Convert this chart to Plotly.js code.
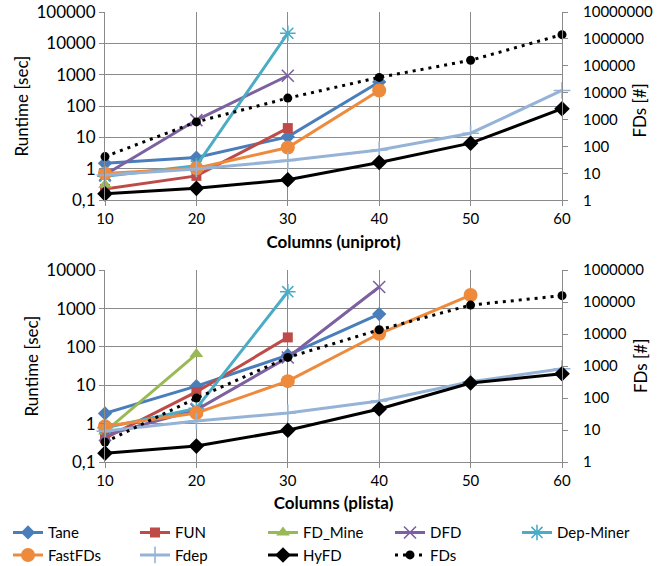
<!DOCTYPE html>
<html>
<head>
<meta charset="utf-8">
<script src="https://cdn.plot.ly/plotly-3.0.1.min.js"></script>
<style>html,body{margin:0;padding:0;background:#fff;}#chart{width:662px;height:566px;}</style>
</head>
<body>
<div id="chart"></div>
<script>
// ---- data ----
const columns = [10, 20, 30, 40, 50, 60];
const seriesNames = ["Tane", "FUN", "FD_Mine", "DFD", "Dep-Miner", "FastFDs", "Fdep", "HyFD"];

// uniprot (runtime in sec)
const tane_u     = [1.5, 2.3, 10.5, 590, null, null];
const fun_u      = [0.23, 0.6, 20, null, null, null];
const fdmine_u   = [0.31, null, null, null, null, null];
const dfd_u      = [0.65, 36, 930, null, null, null];
const depminer_u = [0.58, 1.25, 21000, null, null, null];
const fastfds_u  = [0.72, 1.05, 4.8, 316, null, null];
const fdep_u     = [0.64, 1.0, 1.85, 4.0, 13.7, 316];
const hyfd_u     = [0.16, 0.24, 0.45, 1.6, 6.6, 83];
const fds_u      = [42, 820, 6300, 37000, 160000, 1440000];

// plista (runtime in sec)
const tane_p     = [1.85, 9.5, 61, 720, null, null];
const fun_p      = [0.42, 6.7, 177, null, null, null];
const fdmine_p   = [0.62, 65, null, null, null, null];
const dfd_p      = [0.5, 2.3, 53, 3650, null, null];
const depminer_p = [0.78, 2.5, 2750, null, null, null];
const fastfds_p  = [0.85, 1.9, 12.8, 220, 2250, null];
const fdep_p     = [0.64, 1.17, 1.9, 3.9, 12.3, 27];
const hyfd_p     = [0.17, 0.26, 0.67, 2.4, 11.5, 20];
const fds_p      = [4.2, 100, 1870, 13700, 81000, 160000];

const leftTicksTop = [0.1, 1, 10, 100, 1000, 10000, 100000];
const leftTextTop = ["0,1", "1", "10", "100", "1000", "10000", "100000"];
const rightTicksTop = [1, 10, 100, 1000, 10000, 100000, 1000000, 10000000];
const rightTextTop = ["1", "10", "100", "1000", "10000", "100000", "1000000", "10000000"];
const leftTicksBot = [0.1, 1, 10, 100, 1000, 10000];
const leftTextBot = ["0,1", "1", "10", "100", "1000", "10000"];
const rightTicksBot = [1, 10, 100, 1000, 10000, 100000, 1000000];
const rightTextBot = ["1", "10", "100", "1000", "10000", "100000", "1000000"];

// ---- styles ----
const styles = {
  "Tane":      {color: "#4A7EBB", symbol: "diamond", size: 11, legend: "legend"},
  "FUN":       {color: "#BE4B48", symbol: "square", size: 10, legend: "legend2"},
  "FD_Mine":   {color: "#98B954", symbol: "triangle-up", size: 12, legend: "legend3"},
  "DFD":       {color: "#7D60A0", symbol: "x-thin-open", size: 12, legend: "legend4"},
  "Dep-Miner": {color: "#4BACC6", symbol: "asterisk-open", size: 13, legend: "legend5"},
  "FastFDs":   {color: "#EE8A3C", symbol: "circle", size: 14, legend: "legend"},
  "Fdep":      {color: "#95B3D7", symbol: "cross-thin-open", size: 12, legend: "legend2"},
  "HyFD":      {color: "#000000", symbol: "diamond", size: 12, legend: "legend3"}
};

const uniData = [tane_u, fun_u, fdmine_u, dfd_u, depminer_u, fastfds_u, fdep_u, hyfd_u];
const pliData = [tane_p, fun_p, fdmine_p, dfd_p, depminer_p, fastfds_p, fdep_p, hyfd_p];

const traces = [];
function addSet(data, fds, xa, ya, ya2, showLeg) {
  seriesNames.forEach((name, i) => {
    const s = styles[name];
    const open = s.symbol.indexOf("open") >= 0;
    traces.push({
      type: "scatter", mode: "lines+markers", name: name, legendgroup: name,
      legend: s.legend,
      showlegend: showLeg, x: columns, y: data[i], xaxis: xa, yaxis: ya,
      cliponaxis: false,
      line: {color: s.color, width: 3},
      marker: {color: s.color, symbol: s.symbol, size: s.size,
               line: {color: s.color, width: open ? 1.6 : 0}}
    });
  });
  traces.push({
    type: "scatter", mode: "lines+markers", name: "FDs", legendgroup: "FDs",
    legend: "legend4",
    showlegend: showLeg, x: columns, y: fds, xaxis: xa, yaxis: ya2,
    cliponaxis: false,
    line: {color: "#000000", width: 3, dash: "3px,5px"},
    marker: {color: "#000000", symbol: "circle", size: 9}
  });
}
addSet(uniData, fds_u, "x", "y", "y2", true);
addSet(pliData, fds_p, "x2", "y3", "y4", false);

const FONT = "Lato, 'DejaVu Sans', sans-serif";
const gridCol = "#8A8A8A";
const axisBase = {
  showline: true, linecolor: gridCol, linewidth: 1,
  ticks: "outside", ticklen: 5, tickcolor: gridCol,
  zeroline: false
};
function xAxis(anchor, title) {
  return Object.assign({}, axisBase, {
    domain: [0, 1], anchor: anchor, range: [10, 60],
    tickvals: columns, ticktext: columns.map(String),
    showgrid: true, gridcolor: gridCol, gridwidth: 1,
    tickfont: {family: FONT, size: 15, color: "#000"},
    title: {text: title, font: {family: FONT, size: 17, color: "#000", weight: "bold"}, standoff: 9}
  });
}
function yLeft(dom, anchor, range, tv, tt) {
  return Object.assign({}, axisBase, {
    domain: dom, anchor: anchor, type: "log", range: range,
    tickvals: tv, ticktext: tt, showgrid: true, gridcolor: gridCol, gridwidth: 1,
    tickfont: {family: FONT, size: 17, color: "#000"},
    title: {text: "Runtime [sec]", font: {family: FONT, size: 17, color: "#000"}, standoff: 3}
  });
}
function yRight(over, anchor, range, tv, tt) {
  return Object.assign({}, axisBase, {
    overlaying: over, anchor: anchor, side: "right", type: "log", range: range,
    tickvals: tv, ticktext: tt, showgrid: false, ticklabelstandoff: 12,
    tickfont: {family: FONT, size: 15, color: "#000"}
  });
}
function legendAt(xpx) {
  return {
    orientation: "v", xref: "paper", yref: "container",
    x: (xpx - 105) / 457, y: 0.088, xanchor: "left", yanchor: "top",
    font: {family: FONT, size: 15, color: "#000"},
    bgcolor: "rgba(0,0,0,0)", tracegroupgap: 0, traceorder: "normal"
  };
}

const rightTitleFont = {family: FONT, size: 17, color: "#000"};
const layout = {
  width: 662, height: 566,
  margin: {l: 105, r: 100, t: 12, b: 104},
  paper_bgcolor: "#ffffff", plot_bgcolor: "#ffffff",
  font: {family: FONT, color: "#000"},
  xaxis: xAxis("y", "Columns (uniprot)"),
  yaxis: yLeft([0.5816, 1], "x", [-1, 5], leftTicksTop, leftTextTop),
  yaxis2: yRight("y", "x", [0, 7], rightTicksTop, rightTextTop),
  xaxis2: xAxis("y3", "Columns (plista)"),
  yaxis3: yLeft([0, 0.4262], "x2", [-1, 4], leftTicksBot, leftTextBot),
  yaxis4: yRight("y3", "x2", [0, 6], rightTicksBot, rightTextBot),
  annotations: [
    {text: "FDs [#]", xref: "paper", yref: "paper", x: 1.1707, y: 0.781, showarrow: false,
     textangle: -90, font: rightTitleFont, xanchor: "center", yanchor: "middle"},
    {text: "FDs [#]", xref: "paper", yref: "paper", x: 1.1707, y: 0.2133, showarrow: false,
     textangle: -90, font: rightTitleFont, xanchor: "center", yanchor: "middle"}
  ],
  showlegend: true,
  legend: legendAt(8),
  legend2: legendAt(135),
  legend3: legendAt(263),
  legend4: legendAt(390),
  legend5: legendAt(517)
};

Plotly.newPlot("chart", traces, layout, {staticPlot: true, displayModeBar: false});
</script>
</body>
</html>
